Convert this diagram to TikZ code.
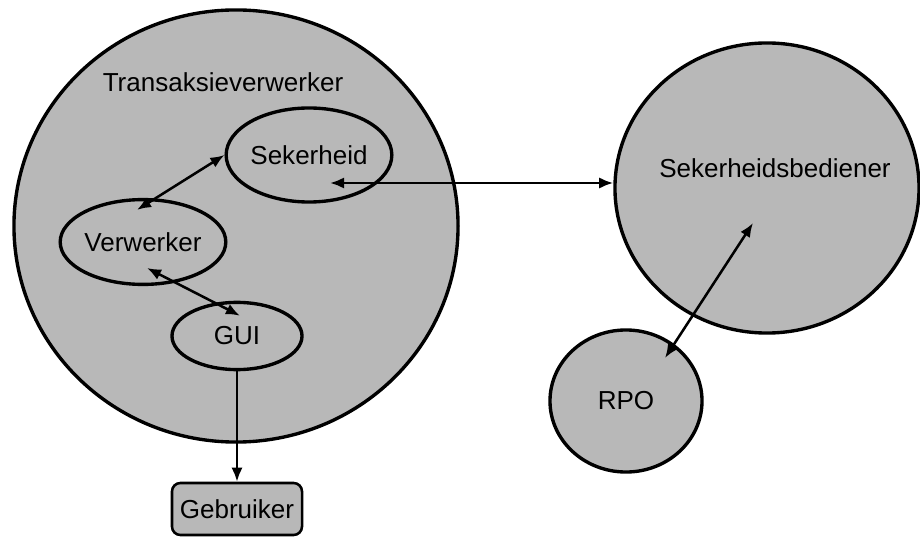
\documentclass[tikz,border=0pt]{standalone}
\usepackage{fontspec}
\setmainfont{Liberation Sans}
\usetikzlibrary{shapes.geometric,arrows.meta,calc}
\definecolor{dotgrey}{gray}{0.72}

\begin{document}
\begin{tikzpicture}[x=0.025cm,y=-0.025cm,
  lbl/.style={font=\fontsize{18.5}{22}\selectfont},
  proc/.style={ellipse,draw,line width=2.4pt,fill=dotgrey,inner sep=0pt,
               font=\fontsize{18.5}{22}\selectfont},
  userbox/.style={draw,line width=1.8pt,fill=dotgrey,rounded corners=6pt,
               minimum width=3.25cm,minimum height=1.3cm,inner sep=0pt,
               font=\fontsize{18.5}{22}\selectfont},
  arr/.style={-{Latex[length=10pt,width=8pt]},line width=1.8pt},
  dbl/.style={{Latex[length=10pt,width=8pt]}-{Latex[length=10pt,width=8pt]},line width=1.8pt}]
  \useasboundingbox (0,0) rectangle (920,537);
  % transaction processor with its parts
  \node[proc,minimum width=11.1cm,minimum height=10.8cm] (tv) at (236,226) {};
  \node[lbl] (tvl) at (223,82) {Transaksieverwerker};
  \node[proc,minimum width=3.85cm,minimum height=2.35cm] (seker) at (309,155) {Sekerheid};
  \node[proc,minimum width=4cm,minimum height=2.12cm] (verw) at (143,242) {Verwerker};
  \node[proc,minimum width=3.25cm,minimum height=1.68cm] (gui) at (237,336) {GUI};
  \node[userbox] (geb) at (237,509) {Gebruiker};
  % security server and RPO
  \node[proc,minimum width=7.6cm,minimum height=7.25cm] (sb) at (767,188) {};
  \node[lbl] (sbl) at (775,168) {Sekerheidsbediener};
  \node[proc,minimum width=3.8cm,minimum height=3.55cm] (rpo) at (626,401) {RPO};
  % links
  \coordinate (k) at ($(seker.center)+(21,28)$);
  \draw[dbl] (seker.west) -- ($(verw.north)+(-6,12)$);
  \draw[dbl] ($(verw.center)+(4,26)$) -- ($(gui.north)+(3,15)$);
  \draw[dbl] (k) -- (k -| sb.west);
  \draw[arr] (gui.south) -- (geb.north);
  \draw[dbl] ($(sb.center)+(-14,35)$) -- ($(rpo.center)+(39,-43)$);
\end{tikzpicture}
\end{document}
